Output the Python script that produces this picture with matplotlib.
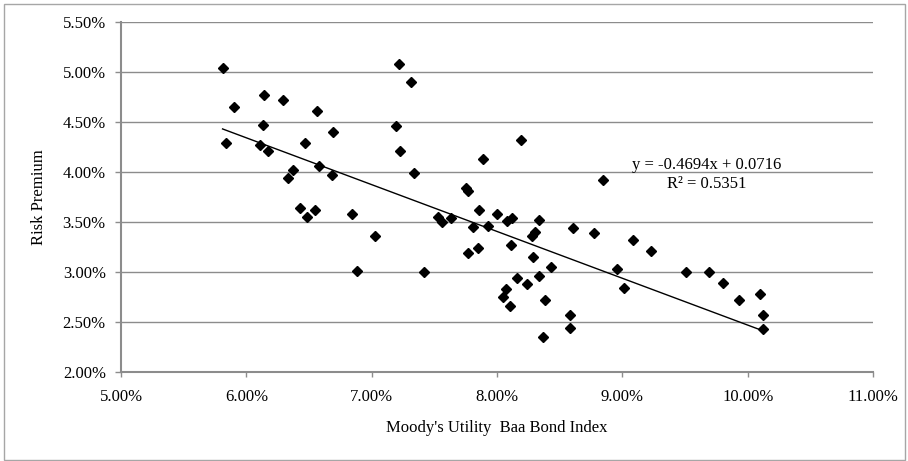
import matplotlib
matplotlib.use('Agg')
import matplotlib.pyplot as plt
from matplotlib.ticker import FuncFormatter, MultipleLocator
from matplotlib.patches import Rectangle
import numpy as np

plt.rcParams['font.family'] = ['Liberation Serif', 'DejaVu Serif']
plt.rcParams['font.size'] = 12

# Moody's utility Baa yield vs. risk premium, both in percent
baa_yield = [5.81, 5.84, 5.905, 6.11, 6.135, 6.14, 6.175, 6.29, 6.335, 6.375,
             6.43, 6.465, 6.48, 6.545, 6.56, 6.58, 6.685, 6.695, 6.845, 6.88,
             7.03, 7.19, 7.22, 7.225, 7.31, 7.335, 7.42, 7.525, 7.56, 7.63,
             7.755, 7.765, 7.765, 7.81, 7.845, 7.86, 7.885, 7.93, 8.0, 8.05,
             8.07, 8.08, 8.105, 8.115, 8.12, 8.16, 8.19, 8.24, 8.275, 8.285,
             8.305, 8.335, 8.335, 8.37, 8.38, 8.43, 8.58, 8.58, 8.605, 8.775,
             8.845, 8.96, 9.01, 9.085, 9.225, 9.51, 9.695, 9.80, 9.93, 10.095,
             10.125, 10.125]
risk_prem = [5.04, 4.29, 4.65, 4.27, 4.47, 4.775, 4.215, 4.72, 3.94, 4.02,
             3.645, 4.295, 3.545, 3.62, 4.61, 4.06, 3.97, 4.405, 3.58, 3.01,
             3.36, 4.465, 5.085, 4.21, 4.90, 3.99, 2.995, 3.55, 3.50, 3.54,
             3.84, 3.815, 3.19, 3.45, 3.235, 3.62, 4.13, 3.46, 3.575, 2.745,
             2.825, 3.505, 2.66, 3.27, 3.535, 2.94, 4.325, 2.875, 3.355, 3.145,
             3.40, 3.52, 2.955, 2.345, 2.715, 3.045, 2.57, 2.435, 3.44, 3.39,
             3.92, 3.025, 2.835, 3.32, 3.21, 3.00, 2.995, 2.885, 2.715, 2.78,
             2.57, 2.43]

slope = -0.4694
intercept = 0.0716
r2 = 0.5351

x = np.array(baa_yield) / 100
y = np.array(risk_prem) / 100

fig = plt.figure(figsize=(9.08, 4.61), dpi=100)
ax = fig.add_axes([0.1333, 0.194, 0.8282, 0.7572])

grid_col = '#8c8c8c'
ax.set_axisbelow(True)
ax.yaxis.grid(True, color=grid_col, linewidth=1.0)

ax.plot(x, y, linestyle='none', marker='D', ms=4.7, color='black')

# linear trendline over the data range
xt = np.array([x.min(), x.max()])
ax.plot(xt, slope * xt + intercept, color='black', linewidth=1.0)

ax.text(0.09669, 0.0398, 'y = %.4fx + %.4f\nR² = %.4f' % (slope, intercept, r2),
        ha='center', va='center', linespacing=1.25)

ax.set_xlim(0.05, 0.11)
ax.set_ylim(0.02, 0.055)
ax.xaxis.set_major_locator(MultipleLocator(0.01))
ax.yaxis.set_major_locator(MultipleLocator(0.005))
pct = FuncFormatter(lambda v, pos: '%.2f%%' % (v * 100))
ax.xaxis.set_major_formatter(pct)
ax.yaxis.set_major_formatter(pct)

for s in ['top', 'right']:
    ax.spines[s].set_visible(False)
for s in ['left', 'bottom']:
    ax.spines[s].set_color(grid_col)
    ax.spines[s].set_linewidth(1.5)

ax.tick_params(axis='y', direction='out', length=4.5, width=1.0, color=grid_col, pad=6.5)
ax.tick_params(axis='x', direction='out', length=3.5, width=1.0, color=grid_col, pad=9)

ax.set_xlabel("Moody's Utility  Baa Bond Index", labelpad=11)
ax.set_ylabel('Risk Premium', labelpad=11)

# chart area border
fig.patches.append(Rectangle((0.004, 0.003), 0.993, 0.988, transform=fig.transFigure,
                             fill=False, edgecolor='#a6a6a6', linewidth=1.0))

fig.savefig('out.png', dpi=100)
